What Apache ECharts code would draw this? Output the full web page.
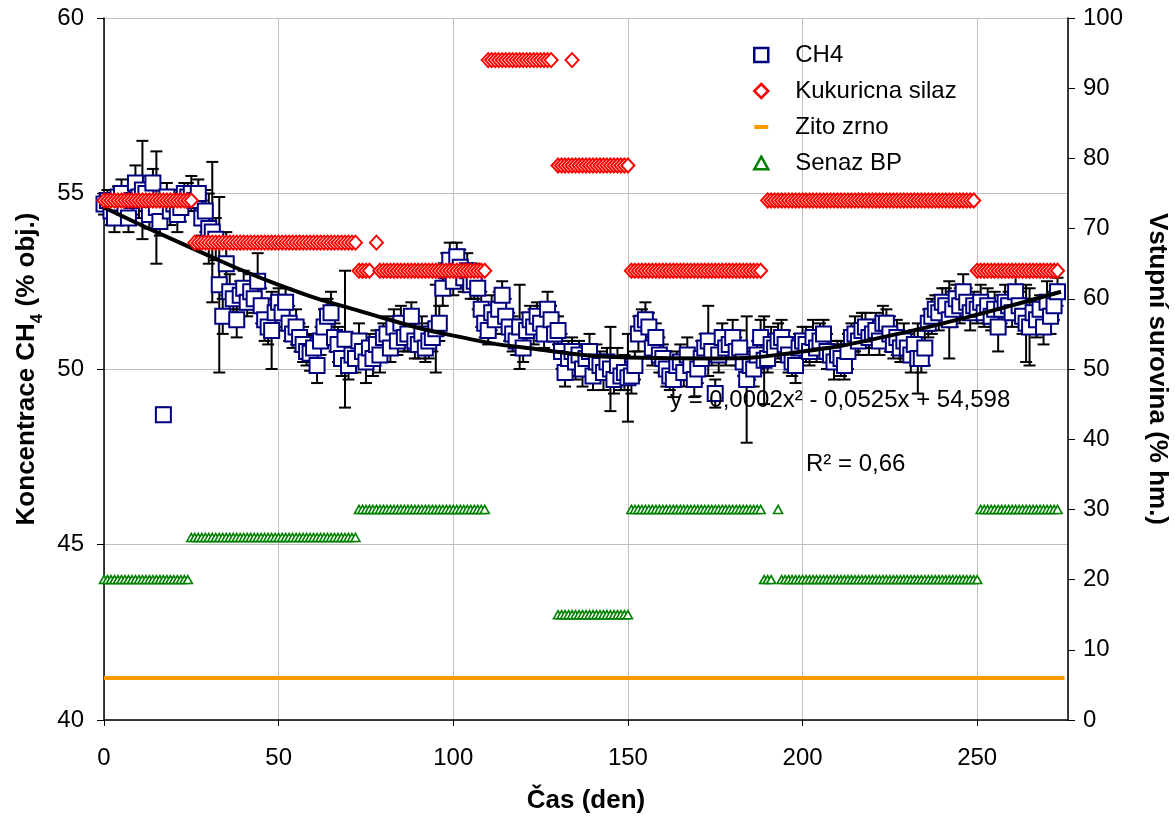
<!DOCTYPE html>
<html>
<head>
<meta charset="utf-8">
<script src="https://cdn.jsdelivr.net/npm/echarts@6/dist/echarts.min.js"></script>
<style>html,body{margin:0;padding:0;background:#fff}#c{width:1175px;height:822px}</style>
</head>
<body>
<div id="c"></div>
<script>
// CH4 concentration (% obj.), one value per day starting at day 0
var ch4Values = [
 54.7,54.8,54.5,54.3,54.9,55.0,54.6,54.3,54.8,55.3,
 54.9,55.1,55.0,54.4,55.3,54.6,54.2,48.7,54.9,54.5,
 54.7,54.4,54.6,55.0,54.9,55.0,54.8,55.0,54.3,54.5,
 54.0,53.9,53.7,52.4,51.5,53.0,52.2,52.0,51.4,52.1,
 52.3,51.9,52.2,52.0,52.5,51.8,51.4,51.2,51.1,51.6,
 51.9,51.6,51.9,51.3,51.0,51.2,50.9,50.7,50.5,50.45,
 50.6,50.1,50.8,51.2,51.5,51.6,50.9,50.7,50.3,50.85,
 50.1,50.4,50.3,50.8,50.5,50.2,50.6,50.3,50.7,50.4,
 50.9,51.0,50.6,51.2,50.8,51.3,50.9,51.0,51.5,50.8,
 50.7,51.0,50.6,50.8,50.9,51.15,51.3,52.3,52.8,53.1,
 52.5,53.2,52.9,52.6,52.8,52.4,52.5,52.3,51.7,51.3,
 51.1,51.6,51.4,51.7,52.1,51.5,51.2,51.0,50.8,51.2,
 50.6,51.1,51.4,51.2,51.5,51.3,51.0,51.7,51.4,51.0,
 51.1,50.5,49.9,50.3,50.5,50.2,50.4,50.0,50.3,50.5,
 49.8,50.2,50.1,49.9,50.2,50.0,49.7,50.1,49.8,49.9,
 49.75,49.8,50.1,51.0,51.3,51.4,51.2,50.6,50.9,50.4,
 50.3,50.0,49.8,49.7,50.1,50.2,49.9,50.4,50.1,49.7,
 50.0,50.3,50.6,50.8,50.5,49.3,50.4,50.9,50.6,50.7,
 50.9,50.5,50.6,50.2,49.7,50.1,50.0,50.4,50.9,50.25,
 50.3,50.7,50.6,50.8,50.9,50.7,50.4,50.2,50.1,50.6,
 50.8,50.7,50.5,50.9,50.6,50.8,51.0,50.5,50.4,50.2,
 50.4,50.3,50.1,50.5,50.9,51.0,50.8,51.1,51.2,50.9,
 51.0,51.1,50.8,51.3,51.3,51.0,50.7,50.9,50.6,50.8,
 50.6,50.4,50.7,50.3,50.3,50.6,51.3,51.5,51.7,51.6,
 51.9,51.8,51.4,51.7,52.0,51.8,52.2,51.9,51.6,51.8,
 51.7,51.9,51.6,51.8,51.5,51.7,51.2,51.7,51.9,51.8,
 51.6,52.2,51.8,51.5,51.3,51.2,51.6,51.4,51.7,51.2,
 51.9,51.5,51.8,52.2
];
// error bar half-length for each day
var ch4Errors = [
 0.3,0.3,0.4,0.4,0.3,0.4,0.3,0.4,0.4,0.5,
 0.6,1.4,0.5,0.4,0.4,1.6,0.4,0.2,0.4,0.4,
 0.4,0.5,0.4,0.3,0.4,0.5,0.3,0.4,0.5,0.6,
 1.0,2.0,0.6,2.5,0.5,0.9,0.5,0.4,0.5,0.4,
 0.5,0.4,0.5,0.4,0.8,0.5,0.6,0.5,1.1,0.4,
 0.4,0.5,0.4,0.5,0.4,0.5,0.4,0.5,0.4,0.5,
 0.4,0.5,0.4,0.5,0.5,0.6,0.4,0.5,0.5,1.95,
 0.4,0.5,0.4,0.5,0.4,0.6,0.4,0.5,0.4,0.5,
 0.4,0.5,0.4,0.5,0.4,0.5,0.4,0.5,0.4,0.5,
 0.4,0.5,0.4,0.5,0.4,1.25,0.5,0.5,0.5,0.5,
 0.4,0.4,0.5,0.4,0.5,0.4,0.5,0.6,0.5,0.4,
 0.4,0.5,0.4,0.5,0.4,0.5,0.4,0.5,0.4,1.2,
 0.4,0.5,0.4,0.5,0.4,0.5,0.4,0.5,0.4,0.5,
 0.4,0.5,0.4,0.5,0.4,0.5,0.4,0.5,0.4,0.5,
 0.4,0.5,0.4,0.5,0.4,1.2,0.4,0.5,0.4,0.5,
 1.25,0.5,0.4,0.5,0.4,0.5,0.4,0.5,0.4,0.5,
 0.4,0.5,0.4,0.5,0.4,0.5,0.4,0.5,0.4,0.5,
 0.4,0.5,0.4,1.0,0.4,0.4,0.5,0.4,0.5,0.4,
 0.5,0.4,0.5,0.4,1.8,0.4,0.5,0.4,0.5,1.25,
 0.4,0.5,0.4,0.5,0.5,0.4,0.5,0.4,0.5,0.4,
 0.4,0.5,0.4,0.5,0.4,0.5,0.4,0.5,0.4,0.5,
 0.4,0.5,0.4,0.5,0.4,0.5,0.4,0.5,0.4,0.5,
 0.4,0.5,0.4,0.5,0.4,0.5,0.4,0.5,0.4,0.5,
 0.4,0.5,0.4,1.0,0.4,0.5,0.4,0.5,0.4,0.5,
 0.4,0.5,1.1,0.5,0.4,0.5,0.5,0.4,0.5,0.4,
 0.4,0.5,0.4,0.5,0.4,0.5,0.7,0.4,0.5,0.4,
 0.4,0.5,0.4,0.5,1.1,1.1,0.4,0.5,0.4,0.5,
 0.6,0.5,0.4,0.4
];
// Kukuricna silaz (% hm.): runs of constant daily level
var silazStart = [0, 26, 73, 78, 79, 110, 134, 130, 151, 190, 250];
var silazEnd   = [25, 72, 76, 78, 109, 128, 134, 150, 188, 249, 273];
var silazLevel = [74, 68, 64, 68, 64, 94, 94, 79, 64, 74, 64];
// Senaz BP (% hm.)
var senazStart = [0, 25, 73, 130, 151, 193, 189, 194, 251];
var senazEnd   = [24, 72, 109, 150, 188, 193, 191, 250, 273];
var senazLevel = [20, 26, 30, 15, 30, 30, 20, 20, 30];
// Zito zrno (% hm.)
var zitoDays = [0, 275];
var zitoVals = [6, 6];
// polynomial trend line
var trendDays = [0, 25, 50, 75, 100, 125, 150, 175, 200, 225, 250, 274];
var trendVals = [54.6, 53.45, 52.4, 51.6, 50.95, 50.55, 50.33, 50.3, 50.5, 50.95, 51.55, 52.2];
// axis ticks
var xTicks = {min: 0, max: 276, interval: 50};
var yLeftTicks = {min: 40, max: 60, interval: 5};
var yRightTicks = {min: 0, max: 100, interval: 10};

function expandRuns(starts, ends, levels) {
  var out = [];
  for (var i = 0; i < starts.length; i++) {
    for (var d = starts[i]; d <= ends[i]; d++) out.push([d, levels[i]]);
  }
  return out;
}
var ch4Data = ch4Values.map(function (v, i) { return [i, v]; });
var errData = ch4Values.map(function (v, i) { return [i, v, ch4Errors[i]]; });
var silazData = expandRuns(silazStart, silazEnd, silazLevel);
var senazData = expandRuns(senazStart, senazEnd, senazLevel);
var zitoData = zitoDays.map(function (d, i) { return [d, zitoVals[i]]; });
var trendData = trendDays.map(function (d, i) { return [d, trendVals[i]]; });

var FONT = '"Liberation Sans", Arial, Helvetica, sans-serif';
var chart = echarts.init(document.getElementById('c'), null, {renderer: 'canvas'});
chart.setOption({
  animation: false,
  backgroundColor: '#fff',
  textStyle: {fontFamily: FONT},
  grid: {left: 104, right: 107, top: 18, bottom: 102, containLabel: false, outerBoundsMode: 'none'},
  legend: {
    orient: 'vertical', left: 753, top: 42, padding: 0,
    itemWidth: 14, itemHeight: 14, itemGap: 10, selectedMode: false,
    textStyle: {fontFamily: FONT, fontSize: 24, color: '#000', lineHeight: 26, padding: [0, 0, 0, 22]},
    data: [
      {name: 'CH4', icon: 'rect', itemStyle: {color: '#fff', borderColor: '#000080', borderWidth: 2.5}},
      {name: 'Kukuricna silaz', icon: 'diamond', itemStyle: {color: '#fff', borderColor: '#ff0000', borderWidth: 2.5}},
      {name: 'Zito zrno', icon: 'path://M0,0h14v4h-14z', itemStyle: {color: '#ff9900', borderWidth: 0}},
      {name: 'Senaz BP', icon: 'path://M5,0L10,9H0Z', itemStyle: {color: '#fff', borderColor: '#008000', borderWidth: 2.5}}
    ]
  },
  xAxis: {
    type: 'value', min: xTicks.min, max: xTicks.max, interval: xTicks.interval,
    name: 'Čas (den)', nameLocation: 'middle', nameGap: 68,
    nameTextStyle: {fontFamily: FONT, fontSize: 26, fontWeight: 'bold', color: '#000'},
    axisLine: {lineStyle: {color: '#000', width: 1.5}},
    axisTick: {show: true, length: 6, lineStyle: {color: '#000'}},
    axisLabel: {fontFamily: FONT, fontSize: 24, color: '#000', margin: 26, showMaxLabel: false},
    splitLine: {show: true, lineStyle: {color: '#c0c0c0', width: 1}}
  },
  yAxis: [
    {
      type: 'value', position: 'left', min: yLeftTicks.min, max: yLeftTicks.max, interval: yLeftTicks.interval,
      name: '{a|Koncentrace CH}{s|4}{a| (% obj.)}', nameLocation: 'middle', nameGap: 64,
      nameTextStyle: {
        fontFamily: FONT, fontSize: 26, fontWeight: 'bold', color: '#000',
        rich: {
          a: {fontFamily: FONT, fontSize: 26, fontWeight: 'bold', color: '#000', lineHeight: 30, verticalAlign: 'bottom'},
          s: {fontFamily: FONT, fontSize: 17, fontWeight: 'bold', color: '#000', lineHeight: 30, verticalAlign: 'bottom', padding: [0, 0, -6, 0]}
        }
      },
      axisLine: {show: true, lineStyle: {color: '#000', width: 1.5}},
      axisTick: {show: true, length: 7, lineStyle: {color: '#000'}},
      axisLabel: {fontFamily: FONT, fontSize: 24, color: '#000', margin: 20},
      splitLine: {show: true, lineStyle: {color: '#c0c0c0', width: 1}}
    },
    {
      type: 'value', position: 'right', min: yRightTicks.min, max: yRightTicks.max, interval: yRightTicks.interval,
      name: 'Vstupní surovina (% hm.)', nameLocation: 'middle', nameGap: 76, nameRotate: -90,
      nameTextStyle: {fontFamily: FONT, fontSize: 26, fontWeight: 'bold', color: '#000'},
      axisLine: {show: true, lineStyle: {color: '#000', width: 1.5}},
      axisTick: {show: true, length: 7, lineStyle: {color: '#000'}},
      axisLabel: {fontFamily: FONT, fontSize: 24, color: '#000', margin: 15},
      splitLine: {show: false}
    }
  ],
  graphic: [
    {type: 'text', left: 670, top: 388, z: 100,
     style: {text: 'y = 0,0002x² - 0,0525x + 54,598', font: '24px ' + FONT, fill: '#000'}},
    {type: 'text', left: 806, top: 452, z: 100,
     style: {text: 'R² = 0,66', font: '24px ' + FONT, fill: '#000'}}
  ],
  series: [
    {
      name: 'errbars', type: 'custom', yAxisIndex: 0, z: 2, silent: true,
      encode: {x: 0, y: [1, 2]},
      data: errData,
      renderItem: function (params, api) {
        var x = api.value(0), v = api.value(1), e = api.value(2);
        var hi = api.coord([x, v + e]);
        var lo = api.coord([x, v - e]);
        var w = 6;
        var st = {stroke: '#000', lineWidth: 2};
        return {type: 'group', children: [
          {type: 'line', shape: {x1: hi[0], y1: hi[1], x2: lo[0], y2: lo[1]}, style: st},
          {type: 'line', shape: {x1: hi[0] - w, y1: hi[1], x2: hi[0] + w, y2: hi[1]}, style: st},
          {type: 'line', shape: {x1: lo[0] - w, y1: lo[1], x2: lo[0] + w, y2: lo[1]}, style: st}
        ]};
      }
    },
    {
      name: 'CH4', type: 'scatter', yAxisIndex: 0, z: 3, symbol: 'rect', symbolSize: 15,
      itemStyle: {color: '#fff', borderColor: '#000080', borderWidth: 2, opacity: 1},
      data: ch4Data
    },
    {
      name: 'trend', type: 'line', yAxisIndex: 0, z: 4, smooth: 0.5, showSymbol: false, symbol: 'none',
      lineStyle: {color: '#000', width: 4},
      data: trendData
    },
    {
      name: 'Kukuricna silaz', type: 'scatter', yAxisIndex: 1, z: 5, symbol: 'diamond', symbolSize: [13, 14],
      itemStyle: {color: '#fff', borderColor: '#ff0000', borderWidth: 2, opacity: 1},
      data: silazData
    },
    {
      name: 'Zito zrno', type: 'line', yAxisIndex: 1, z: 5, symbol: 'none', color: '#ff9900',
      lineStyle: {color: '#ff9900', width: 4},
      data: zitoData
    },
    {
      name: 'Senaz BP', type: 'scatter', yAxisIndex: 1, z: 5, symbol: 'triangle', symbolSize: [9, 8],
      itemStyle: {color: '#fff', borderColor: '#008000', borderWidth: 1.6, opacity: 1},
      data: senazData
    }
  ]
});
</script>
</body>
</html>
